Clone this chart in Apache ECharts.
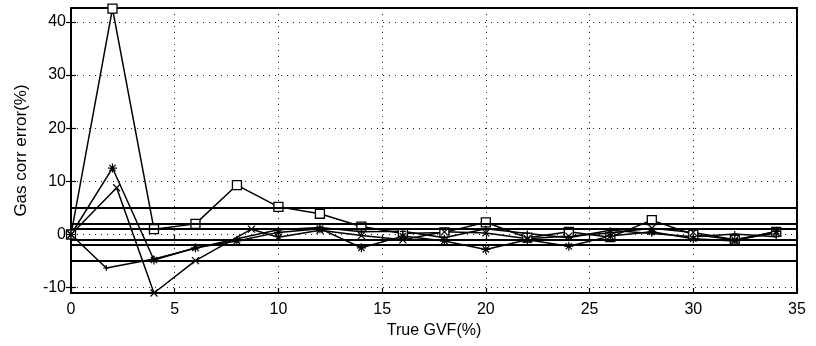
<!DOCTYPE html>
<html>
<head>
<meta charset="utf-8">
<script src="https://cdn.jsdelivr.net/npm/echarts@6/dist/echarts.min.js"></script>
<style>html,body{margin:0;padding:0;background:#fff}#c{width:816px;height:346px}</style>
</head>
<body>
<div id="c"></div>
<script>
// ---- data ----
const xTicks = [0, 5, 10, 15, 20, 25, 30, 35];
const yTicks = [-10, 0, 10, 20, 30, 40];
const limitLines = [5, 2, 1, -1, -2, -5];

const sqX = [0, 2, 4, 6, 8, 10, 12, 14, 16, 18, 20, 22, 24, 26, 28, 30, 32, 34];
const sqY = [0, 42.5, 1, 2, 9.3, 5.2, 3.9, 1.5, 0.2, 0.4, 2.3, -0.6, 0.5, -0.5, 2.7, 0, -1, 0.5];

const astX = [0, 2, 4, 6, 8, 10, 12, 14, 16, 18, 20, 22, 24, 26, 28, 30, 32, 34];
const astY = [0, 12.5, -4.8, -2.5, -1.2, 0.4, 1.1, -2.5, -0.3, -1.2, -2.8, -1.0, -2.2, -0.3, 0.5, -0.8, -1.2, 0.6];

const crossX = [0, 2.2, 4, 6, 8.7, 10, 12, 14, 16, 18, 20, 22, 24, 26, 28, 30, 32, 34];
const crossY = [0, 8.8, -11, -4.9, 1.0, -0.5, 0.8, -0.2, -1, 0.5, 0.3, -0.8, -0.3, 0.3, 1.2, 0.4, -1, 0.3];

const plusX = [0, 1.7, 4, 6, 8, 10, 12, 14, 16, 18, 20, 22, 24, 26, 28, 30, 32, 34];
const plusY = [0, -6.3, -4.6, -2.6, -0.8, 0.9, 1.3, 0.5, 0.6, -0.6, 1.1, 0.2, -0.6, 0.8, 0.2, -0.4, 0.1, -0.4];

const xName = 'True GVF(%)';
const yName = 'Gas corr error(%)';

// ---- chart ----
const pair = (xs, ys) => xs.map((x, i) => [x, ys[i]]);
const FONT = 'Liberation Sans';
const dotted = { color: '#222', width: 1, type: [1, 5] };

const mkSeries = (name, xs, ys, symbol, size) => ({
  name, type: 'line', data: pair(xs, ys),
  symbol, symbolSize: size, showSymbol: true,
  lineStyle: { color: '#000', width: 1.5 },
  itemStyle: { color: '#000', borderColor: '#000', borderWidth: 1.2 },
  z: 3
});

const sqSeries = mkSeries('sq', sqX, sqY, 'rect', 9);
sqSeries.itemStyle = { color: '#fff', borderColor: '#000', borderWidth: 1.3 };
sqSeries.markLine = {
  silent: true, symbol: 'none', label: { show: false },
  lineStyle: { color: '#000', width: 2, type: 'solid' },
  data: limitLines.map(v => ({ yAxis: v })),
  animation: false
};

const chart = echarts.init(document.getElementById('c'), null, { renderer: 'canvas' });
chart.setOption({
  animation: false,
  backgroundColor: '#fff',
  grid: { left: 71, right: 19, top: 8, bottom: 53, show: true, borderColor: '#000', borderWidth: 2, backgroundColor: '#fff' },
  xAxis: [{
    type: 'value', min: xTicks[0], max: xTicks[xTicks.length - 1], interval: 5,
    name: xName, nameLocation: 'middle', nameGap: 29,
    nameTextStyle: { fontFamily: FONT, fontSize: 16, color: '#000' },
    axisLine: { show: true, onZero: false, lineStyle: { color: '#000', width: 2 } },
    axisTick: { show: true, inside: true, length: 5, lineStyle: { color: '#000', width: 1.2 } },
    axisLabel: { fontFamily: FONT, fontSize: 16, color: '#000', margin: 9 },
    splitLine: { show: true, lineStyle: dotted }
  }, {
    type: 'value', position: 'top', min: xTicks[0], max: xTicks[xTicks.length - 1], interval: 5,
    axisLine: { show: false },
    axisTick: { show: true, inside: true, length: 5, lineStyle: { color: '#000', width: 1.2 } },
    axisLabel: { show: false }, splitLine: { show: false }
  }],
  yAxis: [{
    type: 'value', min: -11, max: 42.6,
    name: yName, nameLocation: 'middle', nameGap: 41,
    nameTextStyle: { fontFamily: FONT, fontSize: 17, color: '#000' },
    axisLine: { show: true, onZero: false, lineStyle: { color: '#000', width: 2 } },
    axisTick: { show: true, inside: true, length: 5, customValues: yTicks, lineStyle: { color: '#000', width: 1.2 } },
    axisLabel: { fontFamily: FONT, fontSize: 16, color: '#000', margin: 5, customValues: yTicks },
    splitLine: { show: true, lineStyle: dotted }
  }, {
    type: 'value', position: 'right', min: -11, max: 42.6,
    axisLine: { show: false },
    axisTick: { show: true, inside: true, length: 5, customValues: yTicks, lineStyle: { color: '#000', width: 1.2 } },
    axisLabel: { show: false, customValues: yTicks }, splitLine: { show: false }
  }],
  series: [
    sqSeries,
    mkSeries('ast', astX, astY, 'path://M5,0L5,10M0,5L10,5M1.5,1.5L8.5,8.5M8.5,1.5L1.5,8.5', 9),
    mkSeries('cross', crossX, crossY, 'path://M0,0L10,10M10,0L0,10', 7),
    mkSeries('plus', plusX, plusY, 'path://M5,0L5,10M0,5L10,5', 6)
  ]
});
</script>
</body>
</html>
